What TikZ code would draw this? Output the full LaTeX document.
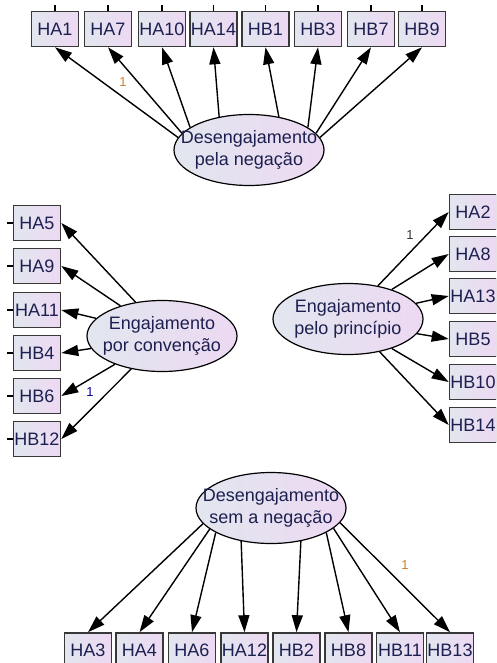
\documentclass[tikz,border=0pt]{standalone}
\usepackage{fontspec}
\setmainfont{Liberation Sans}
\usetikzlibrary{shapes.geometric,arrows.meta}

\begin{document}
\begin{tikzpicture}[x=1pt, y=-1pt]
    \definecolor{borderColour}{HTML}{383838}
    \definecolor{fillColourL}{HTML}{E2E6EF}
    \definecolor{fillColourR}{HTML}{EDD9F2}
    \definecolor{textColour}{HTML}{1C2050}

    \tikzset{
        obs/.style={draw=borderColour, line width=1.6pt, left color=fillColourL, right color=fillColourR,
            minimum width=47pt, minimum height=35pt, inner sep=0pt, text=textColour,
            font=\fontsize{18}{20}\selectfont},
        latent/.style={ellipse, draw=black, line width=1.2pt, left color=fillColourL, right color=fillColourR,
            minimum width=150pt, minimum height=71pt, inner sep=0pt},
        latentText/.style={align=center, text=textColour, inner sep=0pt, font=\fontsize{18}{22}\selectfont},
        load/.style={-{Triangle[length=17pt,width=11pt]}, line width=1.4pt},
        stub/.style={line width=1.3pt},
        one/.style={font=\fontsize{13}{13}\selectfont}
    }

    \useasboundingbox (0,0) rectangle (496,663);
    \clip (0,0) rectangle (496,663);

    % Latent variables
    \node[latent] (DP) at (249,150) {};
    \node[latentText] (DPt) at (DP) {Desengajamento\\pela negação};
    \node[latent] (EC) at (162,336) {};
    \node[latentText] (ECt) at (EC) {Engajamento\\por convenção};
    \node[latent] (EP) at (348,319) {};
    \node[latentText] (EPt) at (EP) {Engajamento\\pelo princípio};
    \node[latent] (DS) at (271,508) {};
    \node[latentText] (DSt) at (DS) {Desengajamento\\sem a negação};

    % Top row
    \foreach \name/\x in {HA1/55, HA7/108, HA10/162, HA14/213.5, HB1/265.5, HB3/318, HB7/371, HB9/422}
        \node[obs] (\name) at (\x,29) {\name};
    \foreach \name/\ang in {HA1/170, HA7/166, HA10/159, HA14/132, HB1/48, HB3/21, HB7/14, HB9/10} {
        \draw[load] (DP.\ang) -- (\name.south);
        \draw[stub] (\name.north) -- ++(0,-6);
    }

    % Left column
    \foreach \name/\y in {HA5/223, HA9/266, HA11/310, HB4/353, HB6/396, HB12/439}
        \node[obs] (\name) at (37,\y) {\name};
    \foreach \name/\ang in {HA5/128, HA9/144, HA11/165, HB4/190, HB6/211, HB12/227} {
        \draw[load] (EC.\ang) -- (\name.east);
        \draw[stub] (\name.west) -- ++(-6,0);
    }

    % Right column
    \foreach \name/\y in {HA2/212, HA8/254, HA13/296, HB5/339, HB10/382, HB14/425}
        \node[obs] (\name) at (473,\y) {\name};
    \foreach \name/\ang in {HA2/48, HA8/34, HA13/13, HB5/348, HB10/326, HB14/314}
        \draw[load] (EP.\ang) -- (\name.west);

    % Bottom row
    \foreach \name/\x in {HA3/88, HA4/139.5, HA6/192, HA12/244.5, HB2/296.5, HB8/348.5, HB11/400, HB13/450}
        \node[obs] (\name) at (\x,650.5) {\name};
    \foreach \name/\ang in {HA3/193, HA4/199, HA6/204, HA12/228, HB2/312, HB8/336, HB11/342, HB13/348}
        \draw[load] (DS.\ang) -- (\name.north);

    % Fixed loadings
    \node[one, text=brown!80!orange] (oneDP) at (123,82) {1};
    \node[one, text=blue!60!black] (oneEC) at (90,392) {1};
    \node[one, text=black!80] (oneEP) at (410,235) {1};
    \node[one, text=brown!80!orange] (oneDS) at (405,565) {1};

\end{tikzpicture}
\end{document}
